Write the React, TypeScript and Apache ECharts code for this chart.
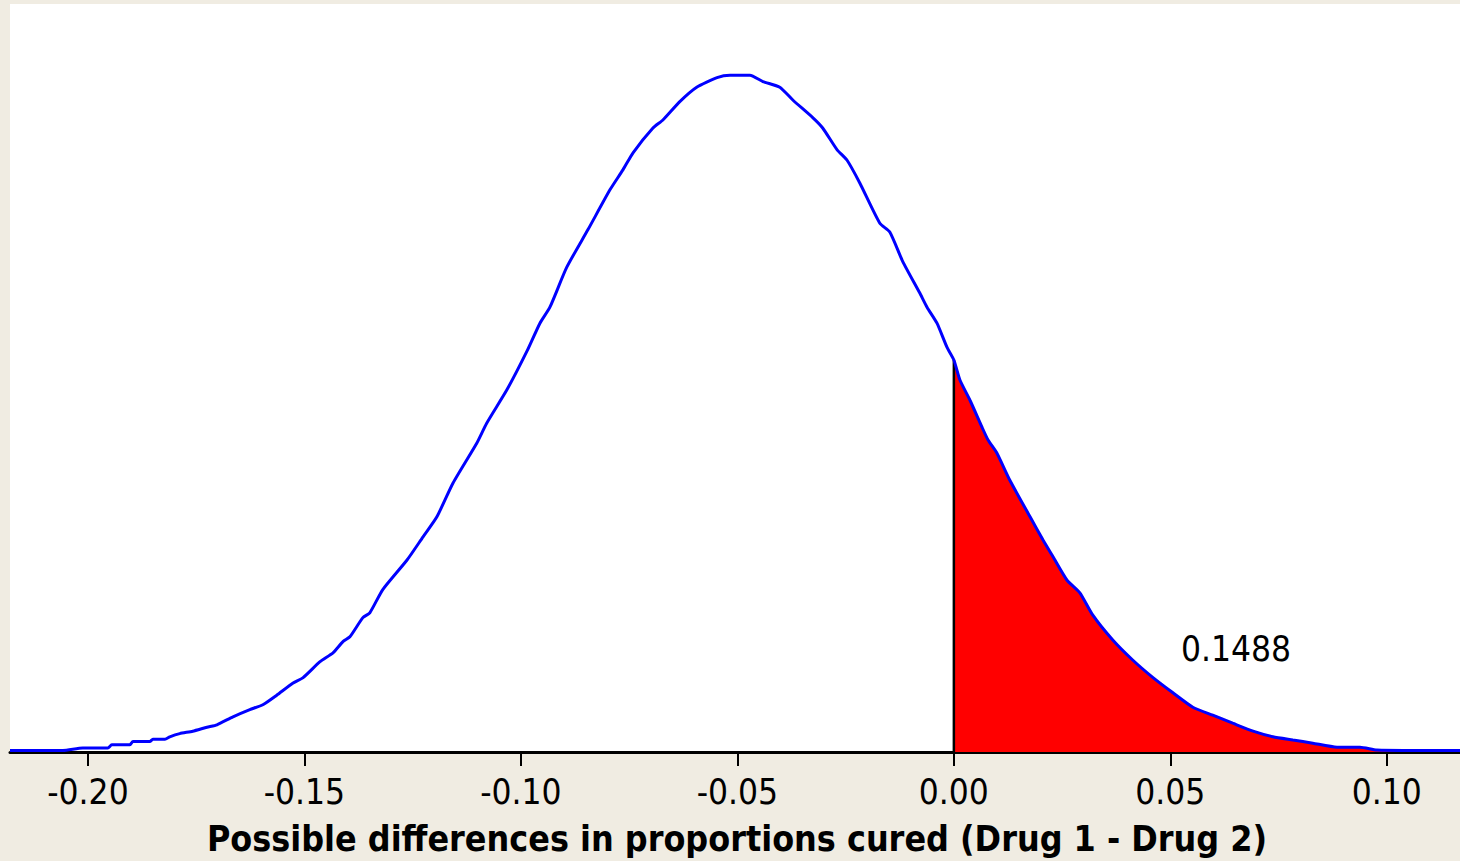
import React, { useEffect, useRef } from "react";
import * as echarts from "echarts";

// Difference values (Drug 1 - Drug 2) along the curve
const diffs: number[] = [
  -0.218, -0.2058, -0.2012, -0.1954, -0.1945, -0.1903, -0.1896, -0.1857, -0.185, -0.1822,
  -0.1811, -0.1788, -0.1758, -0.1725, -0.1702, -0.1665, -0.1626, -0.1596, -0.1564, -0.1527,
  -0.1503, -0.1464, -0.1434, -0.1411, -0.1395, -0.1365, -0.1349, -0.1319, -0.1263, -0.1226,
  -0.1194, -0.1157, -0.1102, -0.1079, -0.1032, -0.0986, -0.0956, -0.0933, -0.0894, -0.0845,
  -0.0794, -0.0764, -0.0741, -0.0695, -0.0672, -0.0633, -0.0594, -0.0547, -0.0517, -0.0471,
  -0.0441, -0.0402, -0.0372, -0.0326, -0.0303, -0.027, -0.0247, -0.0217, -0.0171, -0.0148,
  -0.0118, -0.0079, -0.0062, -0.0039, -0.0016, 0.0, 0.0014, 0.0037, 0.0065, 0.0079,
  0.0099, 0.0129, 0.0176, 0.0206, 0.0229, 0.0261, 0.0291, 0.0321, 0.0367, 0.0413,
  0.046, 0.0506, 0.0552, 0.0598, 0.0644, 0.0691, 0.0737, 0.0783, 0.0829, 0.0885,
  0.0938, 0.0977, 0.1053, 0.1169,
];

// Density heights
const density: number[] = [
  0.02, 0.02, 0.05, 0.05, 0.09, 0.09, 0.13, 0.13, 0.16, 0.16,
  0.19, 0.23, 0.26, 0.31, 0.34, 0.44, 0.53, 0.59, 0.71, 0.86,
  0.93, 1.13, 1.24, 1.38, 1.44, 1.68, 1.74, 2.03, 2.4, 2.69,
  2.94, 3.36, 3.86, 4.11, 4.53, 5.01, 5.36, 5.56, 6.06, 6.53,
  7.03, 7.28, 7.49, 7.8, 7.9, 8.13, 8.31, 8.43, 8.46, 8.46,
  8.38, 8.31, 8.15, 7.93, 7.8, 7.53, 7.4, 7.11, 6.61, 6.5,
  6.13, 5.74, 5.56, 5.36, 5.06, 4.9, 4.65, 4.4, 4.06, 3.9,
  3.74, 3.4, 2.94, 2.65, 2.44, 2.15, 1.99, 1.71, 1.4, 1.15,
  0.93, 0.74, 0.56, 0.46, 0.36, 0.26, 0.19, 0.15, 0.11, 0.06,
  0.06, 0.025, 0.02, 0.02,
];

const tickValues: number[] = [-0.2, -0.15, -0.1, -0.05, 0.0, 0.05, 0.1];
const tailProbability = "0.1488";
const cutoff = 0;
const axisTitle = "Possible differences in proportions cured (Drug 1 - Drug 2)";

export default function App() {
  const ref = useRef<HTMLDivElement>(null);

  useEffect(() => {
    if (!ref.current) return;
    const chart = echarts.init(ref.current, null, { renderer: "svg" });
    const curve = diffs.map((d, i) => [d, density[i]]);
    const tail = curve.filter((p) => p[0] >= cutoff);
    const cutIdx = diffs.findIndex((d) => d >= cutoff);
    const cutLine = [
      [cutoff, 0],
      [cutoff, density[cutIdx]],
    ];
    const font = "'DejaVu Sans Condensed', 'DejaVu Sans', Tahoma, sans-serif";

    chart.setOption({
      animation: false,
      backgroundColor: "#F0ECE2",
      grid: {
        left: 10,
        right: 0,
        top: 4,
        bottom: 109,
        show: true,
        backgroundColor: "#FFFFFF",
        borderWidth: 0,
      },
      xAxis: {
        type: "value",
        min: -0.218,
        max: 0.1169,
        splitLine: { show: false },
        axisLine: { show: true, onZero: false, lineStyle: { color: "#000", width: 3 } },
        axisTick: {
          show: true,
          customValues: tickValues,
          length: 14,
          lineStyle: { color: "#000", width: 2 },
        },
        axisLabel: {
          customValues: tickValues,
          formatter: (v: number) => v.toFixed(2),
          color: "#000",
          fontFamily: font,
          fontSize: 35,
          margin: 22,
        },
      },
      yAxis: {
        type: "value",
        min: 0,
        max: 9.35,
        show: false,
        splitLine: { show: false },
      },
      series: [
        {
          type: "line",
          data: tail,
          symbol: "none",
          smooth: 0.2,
          lineStyle: { width: 0 },
          areaStyle: { color: "#FF0000", opacity: 1 },
          z: 2,
        },
        {
          type: "line",
          data: cutLine,
          symbol: "none",
          lineStyle: { color: "#000", width: 2.5 },
          z: 3,
        },
        {
          type: "line",
          data: curve,
          symbol: "none",
          smooth: 0.2,
          lineStyle: { color: "#0000FF", width: 3 },
          z: 4,
        },
      ],
      graphic: [
        {
          type: "text",
          left: 1181,
          top: 631,
          style: {
            text: tailProbability,
            fill: "#000",
            font: `35px ${font}`,
          },
          z: 10,
        },
        {
          type: "text",
          x: 737,
          y: 838,
          style: {
            text: axisTitle,
            fill: "#000",
            font: `bold 35.5px ${font}`,
            textAlign: "center",
            textVerticalAlign: "middle",
          },
          z: 10,
        },
      ],
    });
    return () => chart.dispose();
  }, []);

  return (
    <div
      ref={ref}
      style={{ position: "fixed", left: 0, top: 0, width: 1460, height: 861 }}
    />
  );
}
